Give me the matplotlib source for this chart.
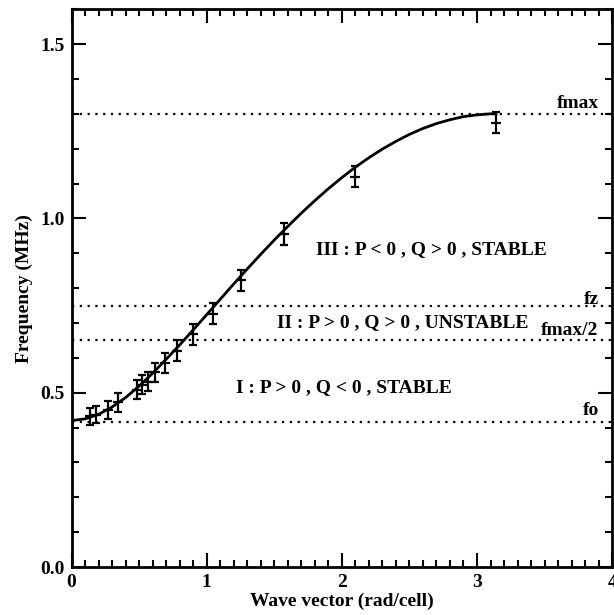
import matplotlib
matplotlib.use("Agg")
import matplotlib.pyplot as plt
from matplotlib.ticker import MultipleLocator

plt.rcParams['font.family'] = ['Liberation Serif', 'DejaVu Serif']
plt.rcParams['font.weight'] = 'bold'

# Data
k_meas = [0.137, 0.179, 0.268, 0.347, 0.488, 0.525, 0.564, 0.619, 0.693, 0.779,
          0.898, 1.046, 1.256, 1.571, 2.094, 3.142]
f_meas = [0.432, 0.437, 0.451, 0.472, 0.509, 0.523, 0.532, 0.558, 0.585, 0.621,
          0.667, 0.726, 0.822, 0.956, 1.120, 1.275]
f_err = [0.024, 0.025, 0.025, 0.027, 0.027, 0.028, 0.028, 0.028, 0.029, 0.029,
         0.030, 0.030, 0.031, 0.031, 0.031, 0.031]

k_curve = [0.0, 0.1, 0.2, 0.3, 0.4, 0.5, 0.6, 0.7, 0.8, 0.9, 1.0, 1.1, 1.2, 1.3, 1.4,
           1.5, 1.6, 1.7, 1.8, 1.9, 2.0, 2.1, 2.2, 2.3, 2.4, 2.5, 2.6, 2.7, 2.8,
           2.9, 3.0, 3.1, 3.14]
f_curve = [0.420, 0.425, 0.438, 0.459, 0.486, 0.519, 0.556, 0.596, 0.637, 0.680,
           0.724, 0.768, 0.812, 0.855, 0.897, 0.938, 0.977, 1.015, 1.051, 1.085,
           1.117, 1.147, 1.174, 1.199, 1.221, 1.241, 1.258, 1.272, 1.283, 1.292,
           1.297, 1.300, 1.300]

level_values = [1.30, 0.75, 0.65, 0.415]
level_names = ['fmax', 'fz', 'fmax/2', 'fo']
level_label_y = [1.33, 0.767, 0.678, 0.448]

region_texts = ['III : P < 0 , Q > 0 , STABLE',
                'II : P > 0 , Q > 0 , UNSTABLE',
                'I : P > 0 , Q < 0 , STABLE']
region_pos = [(1.81, 0.91), (1.52, 0.70), (1.22, 0.515)]

fig = plt.figure(figsize=(6.14, 6.15), dpi=100)
ax = fig.add_axes([0.1165, 0.078, 0.8805, 0.907])

for v in level_values:
    ax.axhline(v, color='black', linestyle=(0, (1, 2.5)), linewidth=1.6)

ax.plot(k_curve, f_curve, color='black', linewidth=2.0)
ax.errorbar(k_meas, f_meas, yerr=f_err, fmt='_', color='black', markersize=7,
            markeredgewidth=1.6, elinewidth=1.6, capsize=3, capthick=1.6)

for name, y in zip(level_names, level_label_y):
    ax.text(3.90, y, name, ha='right', va='center', fontsize=14, fontweight='bold')

for t, (x, y) in zip(region_texts, region_pos):
    ax.text(x, y, t, ha='left', va='center', fontsize=14, fontweight='bold')

ax.set_xlim(0, 4)
ax.set_ylim(0, 1.6)
ax.xaxis.set_minor_locator(MultipleLocator(0.1))
ax.yaxis.set_minor_locator(MultipleLocator(0.1))
ax.set_xticks([0, 1, 2, 3, 4])
ax.set_xticklabels(['0', '1', '2', '3', '4'])
ax.set_yticks([0.0, 0.5, 1.0, 1.5])
ax.set_yticklabels(['0.0', '0.5', '1.0', '1.5'])
ax.tick_params(which='both', direction='in', top=True, right=True, width=1.5,
               labelsize=14)
ax.tick_params(which='major', length=10, pad=5)
ax.tick_params(which='minor', length=5)
for sp in ax.spines.values():
    sp.set_linewidth(2)

ax.set_xlabel('Wave vector (rad/cell)', fontsize=14, fontweight='bold', labelpad=1)
ax.set_ylabel('Frequency (MHz)', fontsize=14, fontweight='bold', labelpad=5)

fig.savefig('out.png', dpi=100)
